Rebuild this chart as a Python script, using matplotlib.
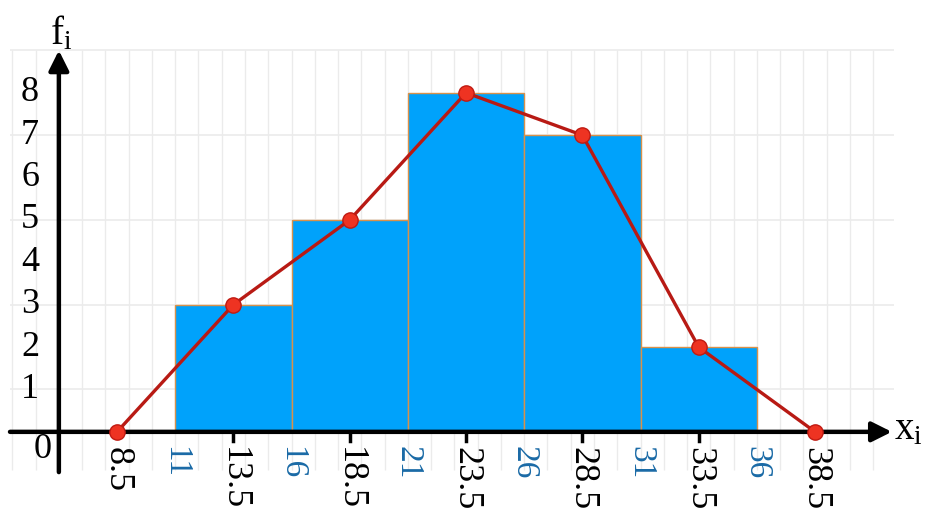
import numpy as np
import matplotlib.pyplot as plt

# Daten: Klassen und Häufigkeiten
bin_edges = [11, 16, 21, 26, 31, 36]
freqs = [3, 5, 8, 7, 2]
mid_x = [8.5, 13.5, 18.5, 23.5, 28.5, 33.5, 38.5]
mid_f = [0, 3, 5, 8, 7, 2, 0]
y_ticks = [1, 2, 3, 4, 5, 6, 7, 8]

plt.rcParams['font.family'] = ['Liberation Serif', 'DejaVu Serif']
plt.rcParams['mathtext.fontset'] = 'custom'
plt.rcParams['mathtext.rm'] = 'Liberation Serif'
plt.rcParams['mathtext.it'] = 'Liberation Serif'

fig = plt.figure(figsize=(9.33, 5.2), dpi=100)
ax = fig.add_axes([0, 0, 1, 1])
ax.set_xlim(3.47, 43.57)
ax.set_ylim(-2.08, 10.19)
ax.axis('off')

# Gitter
grid_c = '#ebebeb'
ax.vlines(np.arange(4, 42), -0.9, 9, color=grid_c, lw=1, zorder=0)
ax.hlines([1, 3, 5, 7, 9], 3.9, 41.9, color=grid_c, lw=1.2, zorder=0)

# Histogramm
widths = np.diff(bin_edges)
ax.bar(bin_edges[:-1], freqs, width=widths, align='edge',
       color='#00a2fb', edgecolor='#d9914a', linewidth=1, zorder=2)

# Achsen mit Pfeilen
ax.annotate('', xy=(41.8, 0), xytext=(3.9, 0),
            arrowprops=dict(arrowstyle='-|>', lw=3.2, color='black',
                            mutation_scale=30, shrinkA=0, shrinkB=0), zorder=3)
ax.annotate('', xy=(6, 9.0), xytext=(6, -0.95),
            arrowprops=dict(arrowstyle='-|>', lw=3.2, color='black',
                            mutation_scale=30, shrinkA=0, shrinkB=0), zorder=3)

# Häufigkeitspolygon
ax.plot(mid_x, mid_f, color='#b81a14', lw=2.4, zorder=4)
ax.plot(mid_x, mid_f, 'o', ms=11, mfc='#ee3322', mec='#c01a12', mew=1, zorder=5)

# Striche an der x-Achse
for x in mid_x[1:-1]:
    ax.plot([x, x], [0, -0.22], color='black', lw=2.5, zorder=3)

# Beschriftungen
for x in mid_x:
    ax.text(x, -0.36, str(x), rotation=270, ha='center', va='top',
            fontsize=26, color='black')
for b in bin_edges:
    ax.text(b, -0.33, str(b), rotation=270, ha='center', va='top',
            fontsize=24, color='#1a6aa6')
for y in y_ticks:
    ax.text(4.76, y, str(y), ha='center', va='center', fontsize=26)
ax.text(5.3, -0.42, '0', ha='center', va='center', fontsize=26)

ax.text(6.1, 9.15, r'$\mathrm{f}_\mathrm{i}$', ha='center', va='baseline', fontsize=28)
ax.text(41.9, 0.05, r'$\mathrm{x}_\mathrm{i}$', ha='left', va='center', fontsize=28)

plt.savefig('out.png', dpi=100)
